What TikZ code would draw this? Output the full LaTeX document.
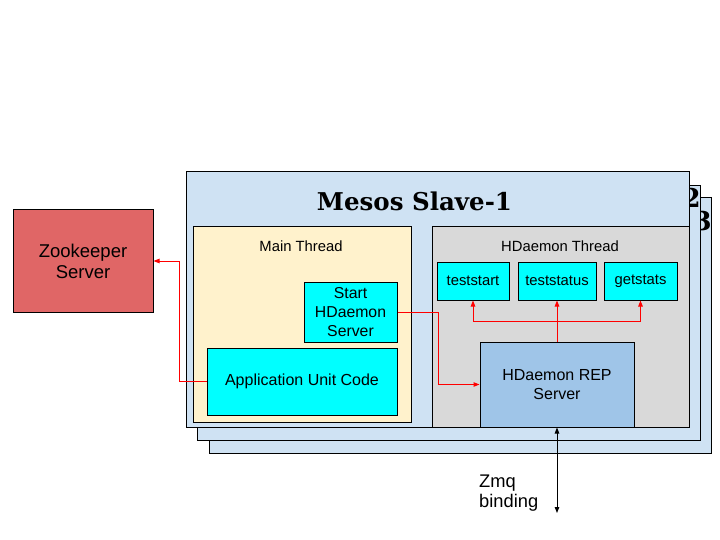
\documentclass[tikz,border=0pt]{standalone}
\usepackage{fontspec}
\setmainfont{Liberation Sans}
\newfontfamily\slavefont{DejaVu Serif}
\usetikzlibrary{arrows.meta}
\definecolor{slaveblue}{HTML}{CFE2F3}
\definecolor{mainyellow}{HTML}{FFF2CC}
\definecolor{threadgray}{HTML}{D9D9D9}
\definecolor{taskcyan}{HTML}{00FFFF}
\definecolor{repblue}{HTML}{9FC5E8}
\definecolor{zkred}{HTML}{E06666}

\begin{document}
\begin{tikzpicture}[x=1pt,y=-1pt,
    frame/.style={draw,line width=1pt,fill=slaveblue,inner sep=0pt},
    thread/.style={draw,line width=1pt,inner sep=0pt},
    task/.style={draw,line width=1pt,fill=taskcyan,inner sep=0pt,align=center},
    redline/.style={red,line width=1pt,-{Triangle[length=6pt,width=4.5pt]}},
    digit/.style={font=\slavefont\bfseries\fontsize{26}{30}\selectfont,inner sep=0pt}]
            \useasboundingbox (0,0) rectangle (720,540);
            % the stacked slave frames
            \node[frame,minimum width=502pt,minimum height=255pt] (slave3) at (460,325.5) {};
            \node[digit,anchor=east] (num3) at (712,221) {3};
            \node[frame,minimum width=503pt,minimum height=254pt] (slave2) at (448.5,313) {};
            \node[digit,anchor=east] (num2) at (701,198) {2};
            \node[frame,minimum width=503pt,minimum height=255pt] (slave1) at (437.5,299.5) {};
            \node[digit,font=\slavefont\bfseries\fontsize{24.5}{28}\selectfont] (title) at (414.5,201) {Mesos Slave-1};
            % threads
            \node[thread,fill=mainyellow,minimum width=218pt,minimum height=195pt] (main) at (302,324.5) {};
            \node[font=\fontsize{14.8}{17}\selectfont] (mainlabel) at (301,246) {Main Thread};
            \node[thread,fill=threadgray,minimum width=257pt,minimum height=200pt] (hdthread) at (560.5,327) {};
            \node[font=\fontsize{14.8}{17}\selectfont] (hdlabel) at (560,246) {HDaemon Thread};
            % boxes
            \node[draw,line width=1pt,fill=zkred,inner sep=0pt,align=center,minimum width=140pt,minimum height=103pt,font=\fontsize{18.5}{21}\selectfont] (zk) at (83,261) {Zookeeper\\Server};
            \node[task,minimum width=93pt,minimum height=60pt,font=\fontsize{15.8}{19}\selectfont] (start) at (350.5,312.5) {Start\\HDaemon\\Server};
            \node[task,minimum width=190pt,minimum height=67pt,font=\fontsize{16}{19}\selectfont] (app) at (302,381.5) {Application Unit Code};
            \node[task,minimum width=72pt,minimum height=38pt,font=\fontsize{14.8}{17}\selectfont] (teststart) at (473,281) {teststart};
            \node[task,minimum width=78pt,minimum height=38pt,font=\fontsize{14.8}{17}\selectfont] (teststatus) at (557,281) {teststatus};
            \node[task,minimum width=73pt,minimum height=38pt,font=\fontsize{14.8}{17}\selectfont] (getstats) at (640.5,281) {getstats};
            \node[draw,line width=1pt,fill=repblue,inner sep=0pt,align=center,minimum width=154pt,minimum height=85pt,font=\fontsize{16}{19}\selectfont] (rep) at (557,384.5) {HDaemon REP\\Server};
            \node[anchor=west,align=left,inner sep=0pt,font=\fontsize{18.3}{20}\selectfont] (zmq) at (479,493) {Zmq\\binding};
            % connectors
            \coordinate (split) at (557,321);
            \coordinate (zmqend) at (557,513);
            \draw[redline] (app.west) -- ++(-27,0) |- (zk.east);
            \draw[redline] (start.east) -- ++(41,0) |- (rep.west);
            \draw[redline] (rep.north) -- (teststatus.south);
            \draw[redline] (split) -| (teststart.south);
            \draw[redline] (split) -| (getstats.south);
            \draw[line width=1pt,{Triangle[length=6pt,width=4.5pt]}-{Triangle[length=6pt,width=4.5pt]}] (rep.south) -- (zmqend);
        \end{tikzpicture}
\end{document}
